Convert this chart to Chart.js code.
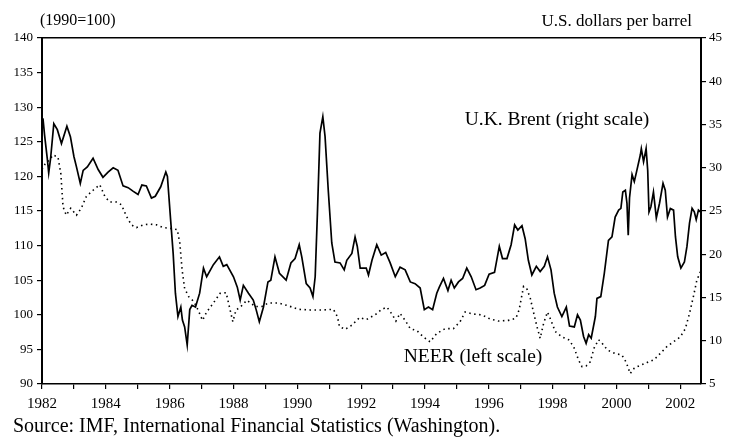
<!DOCTYPE html>
<html>
<head>
<meta charset="utf-8">
<script src="https://cdn.jsdelivr.net/npm/chart.js@4/dist/chart.umd.min.js"></script>
<style>
  html, body { margin: 0; padding: 0; background: #fff; }
  #chart { display: block; }
</style>
</head>
<body>
<canvas id="chart" width="730" height="441"></canvas>
<script>
// === data ===

// U.K. Brent, U.S. dollars per barrel (right scale)
const brentYears = [
  1982.03, 1982.08, 1982.17, 1982.21, 1982.27, 1982.37, 1982.48, 1982.61, 1982.78, 1982.89,
  1983.00, 1983.08, 1983.20, 1983.29, 1983.42, 1983.60, 1983.76, 1983.91, 1984.07, 1984.23,
  1984.38, 1984.54, 1984.70, 1984.85, 1985.01, 1985.13, 1985.27, 1985.43, 1985.55, 1985.72,
  1985.88, 1985.93, 1986.03, 1986.11, 1986.18, 1986.26, 1986.35, 1986.40, 1986.47, 1986.55,
  1986.63, 1986.70, 1986.81, 1986.94, 1987.06, 1987.16, 1987.37, 1987.56, 1987.68, 1987.79,
  1988.00, 1988.12, 1988.21, 1988.31, 1988.47, 1988.62, 1988.71, 1988.81, 1988.94, 1989.08,
  1989.17, 1989.30, 1989.44, 1989.65, 1989.80, 1989.93, 1990.06, 1990.14, 1990.28, 1990.40,
  1990.49, 1990.56, 1990.63, 1990.71, 1990.80, 1990.87, 1990.97, 1991.08, 1991.18, 1991.34,
  1991.47, 1991.55, 1991.71, 1991.81, 1991.88, 1991.97, 1992.16, 1992.23, 1992.34, 1992.49,
  1992.63, 1992.77, 1992.91, 1993.07, 1993.22, 1993.38, 1993.54, 1993.69, 1993.85, 1993.98,
  1994.11, 1994.24, 1994.37, 1994.45, 1994.58, 1994.72, 1994.82, 1994.92, 1995.05, 1995.18,
  1995.31, 1995.45, 1995.60, 1995.73, 1995.87, 1996.01, 1996.18, 1996.33, 1996.43, 1996.57,
  1996.70, 1996.81, 1996.91, 1997.04, 1997.14, 1997.24, 1997.35, 1997.49, 1997.61, 1997.74,
  1997.84, 1997.95, 1998.05, 1998.15, 1998.29, 1998.43, 1998.53, 1998.68, 1998.78, 1998.87,
  1998.97, 1999.05, 1999.13, 1999.21, 1999.34, 1999.39, 1999.51, 1999.62, 1999.75, 1999.86,
  1999.96, 2000.07, 2000.14, 2000.20, 2000.28, 2000.33, 2000.37, 2000.41, 2000.49, 2000.56,
  2000.64, 2000.75, 2000.78, 2000.85, 2000.93, 2000.98, 2001.02, 2001.08, 2001.16, 2001.25,
  2001.35, 2001.46, 2001.53, 2001.60, 2001.69, 2001.79, 2001.85, 2001.92, 2002.02, 2002.13,
  2002.21, 2002.29, 2002.37, 2002.44, 2002.50, 2002.57, 2002.63
];
const brentPrices = [
  35.7, 33.8, 30.9, 29.4, 31.1, 35.1, 34.4, 32.8, 34.8, 33.6,
  31.3, 30.1, 28.2, 29.7, 30.1, 31.1, 29.8, 28.9, 29.5, 30.0,
  29.7, 27.9, 27.7, 27.3, 26.9, 28.0, 27.9, 26.5, 26.7, 27.8,
  29.5, 29.0, 24.0, 20.1, 15.5, 12.8, 13.9, 12.4, 11.6, 9.5,
  13.6, 14.1, 13.9, 15.5, 18.4, 17.4, 18.8, 19.7, 18.6, 18.8,
  17.4, 16.2, 14.7, 16.4, 15.5, 14.7, 13.6, 12.2, 13.9, 16.8,
  17.0, 19.7, 17.8, 17.0, 19.0, 19.5, 21.1, 19.7, 16.6, 16.1,
  15.1, 17.4, 24.7, 34.0, 35.9, 33.6, 27.4, 21.3, 19.1, 19.0,
  18.2, 19.3, 20.1, 22.0, 20.9, 18.4, 18.4, 17.6, 19.3, 21.1,
  19.9, 20.2, 19.0, 17.4, 18.5, 18.2, 16.8, 16.6, 16.1, 13.6,
  13.9, 13.6, 15.5, 16.2, 17.2, 15.8, 17.0, 16.1, 16.8, 17.2,
  18.4, 17.4, 15.9, 16.1, 16.4, 17.7, 17.9, 20.9, 19.5, 19.5,
  21.1, 23.4, 22.8, 23.3, 21.8, 19.3, 17.6, 18.6, 18.0, 18.6,
  19.7, 18.2, 15.5, 13.9, 12.8, 13.9, 11.7, 11.6, 13.0, 12.4,
  10.5, 9.7, 10.7, 10.3, 12.8, 14.9, 15.1, 17.8, 21.6, 22.0,
  24.3, 25.1, 25.3, 27.2, 27.4, 25.9, 22.2, 26.5, 29.2, 28.4,
  29.7, 31.5, 32.2, 30.7, 32.2, 29.7, 24.9, 25.5, 27.2, 24.2,
  25.9, 28.2, 27.4, 24.3, 25.3, 25.1, 22.0, 19.7, 18.4, 19.1,
  20.9, 23.6, 25.3, 24.9, 24.0, 25.1, 24.9
];

// nominal effective exchange rate, 1990=100 (left scale)
const neerYears = [
  1982.00, 1982.10, 1982.24, 1982.34, 1982.50, 1982.59, 1982.66, 1982.76, 1982.90, 1983.08,
  1983.23, 1983.39, 1983.60, 1983.81, 1983.97, 1984.12, 1984.33, 1984.49, 1984.65, 1984.80,
  1984.96, 1985.17, 1985.38, 1985.59, 1985.80, 1986.00, 1986.24, 1986.32, 1986.39, 1986.47,
  1986.60, 1986.76, 1986.89, 1987.03, 1987.16, 1987.37, 1987.58, 1987.77, 1987.87, 1987.98,
  1988.08, 1988.21, 1988.42, 1988.68, 1988.89, 1989.09, 1989.41, 1989.72, 1990.03, 1990.40,
  1990.82, 1991.13, 1991.26, 1991.32, 1991.50, 1991.71, 1991.95, 1992.16, 1992.44, 1992.65,
  1992.81, 1992.98, 1993.09, 1993.22, 1993.38, 1993.54, 1993.75, 1993.95, 1994.16, 1994.37,
  1994.63, 1994.89, 1995.10, 1995.26, 1995.52, 1995.78, 1996.04, 1996.30, 1996.62, 1996.85,
  1996.95, 1997.09, 1997.19, 1997.30, 1997.40, 1997.51, 1997.61, 1997.72, 1997.84, 1997.95,
  1998.08, 1998.29, 1998.50, 1998.66, 1998.81, 1998.92, 1999.05, 1999.18, 1999.30, 1999.44,
  1999.55, 1999.72, 1999.96, 2000.17, 2000.31, 2000.43, 2000.56, 2000.75, 2000.96, 2001.18,
  2001.37, 2001.58, 2001.79, 2002.00, 2002.16, 2002.29, 2002.41, 2002.52, 2002.63
];
const neerIndex = [
  121.0, 121.8, 122.4, 123.1, 122.8, 120.4, 115.6, 114.4, 115.4, 114.4,
  115.4, 117.1, 118.0, 118.8, 117.1, 116.3, 116.3, 115.9, 114.2, 113.0,
  112.6, 113.0, 113.1, 113.0, 112.6, 112.5, 112.3, 110.3, 106.5, 103.8,
  102.6, 101.9, 100.7, 99.2, 100.4, 101.7, 103.1, 103.2, 101.2, 99.0,
  100.7, 101.1, 102.1, 101.2, 101.2, 101.7, 101.7, 101.3, 100.8, 100.7,
  100.7, 100.8, 99.7, 98.3, 97.9, 98.5, 99.6, 99.3, 100.0, 100.8,
  101.1, 100.0, 99.1, 100.2, 99.2, 98.0, 97.7, 96.8, 96.1, 97.3,
  98.0, 98.0, 99.0, 100.4, 100.1, 100.0, 99.4, 99.1, 99.2, 99.5,
  100.7, 104.1, 103.8, 102.4, 100.4, 98.3, 96.6, 98.8, 100.4, 99.2,
  97.6, 96.8, 96.4, 95.4, 93.5, 92.5, 92.6, 93.2, 95.2, 96.4,
  95.9, 94.9, 94.4, 94.2, 93.1, 91.5, 92.3, 92.7, 93.1, 93.5,
  94.4, 95.4, 96.1, 96.8, 98.0, 100.2, 102.6, 105.0, 106.2
];

// axes
const yearTicks = [1982, 1983, 1984, 1985, 1986, 1987, 1988, 1989, 1990, 1991, 1992,
  1993, 1994, 1995, 1996, 1997, 1998, 1999, 2000, 2001, 2002];
const yearLabels = ["1982", "", "1984", "", "1986", "", "1988", "", "1990", "", "1992",
  "", "1994", "", "1996", "", "1998", "", "2000", "", "2002"];
const leftTicks = [90, 95, 100, 105, 110, 115, 120, 125, 130, 135, 140];
const rightTicks = [5, 10, 15, 20, 25, 30, 35, 40, 45];

const SERIF = "'Liberation Serif', 'DejaVu Serif', serif";

function toPoints(xs, ys) {
  return xs.map((x, i) => ({ x, y: ys[i] }));
}

// fixed text: units, series labels, source line
const textPlugin = {
  id: "texts",
  afterDraw(chart) {
    const ctx = chart.ctx;
    ctx.save();
    ctx.fillStyle = "#000";
    ctx.textBaseline = "middle";
    ctx.textAlign = "left";
    ctx.font = "16px " + SERIF;
    ctx.fillText("(1990=100)", 40, 21);
    ctx.font = "17px " + SERIF;
    ctx.textAlign = "right";
    ctx.fillText("U.S. dollars per barrel", 692, 22);
    ctx.font = "19.5px " + SERIF;
    ctx.textAlign = "center";
    ctx.fillText("U.K. Brent (right scale)", 557, 120);
    ctx.fillText("NEER (left scale)", 473, 357);
    ctx.font = "20px " + SERIF;
    ctx.textAlign = "left";
    ctx.fillText("Source: IMF, International Financial Statistics (Washington).", 13, 427);
    ctx.restore();
  },
};

Chart.defaults.font.family = SERIF;
Chart.defaults.color = "#000";

new Chart(document.getElementById("chart"), {
  type: "line",
  data: {
    datasets: [
      {
        label: "U.K. Brent (right scale)",
        data: toPoints(brentYears, brentPrices),
        yAxisID: "yR",
        borderColor: "#000",
        borderWidth: 1.7,
        pointRadius: 0,
        tension: 0,
      },
      {
        label: "NEER (left scale)",
        data: toPoints(neerYears, neerIndex),
        yAxisID: "y",
        borderColor: "#000",
        borderWidth: 1.6,
        borderDash: [1.5, 3.5],
        pointRadius: 0,
        tension: 0,
      },
    ],
  },
  options: {
    responsive: false,
    animation: false,
    devicePixelRatio: 1,
    layout: { padding: 0 },
    plugins: {
      legend: { display: false },
      tooltip: { enabled: false },
    },
    scales: {
      x: {
        type: "linear",
        position: "bottom",
        min: 1982,
        max: 2002.65,
        afterBuildTicks: s => { s.ticks = yearTicks.map(v => ({ value: v })); },
        afterFit: s => { s.height = 57; },
        ticks: {
          autoSkip: false,
          maxRotation: 0,
          padding: 6,
          font: { size: 15 },
          callback: (v, i) => yearLabels[i],
        },
        grid: { drawOnChartArea: false, tickLength: 5, color: "#000", lineWidth: 1.2 },
        border: { color: "#000", width: 1.5 },
      },
      xTop: {
        type: "linear",
        position: "top",
        min: 1982,
        max: 2002.65,
        afterFit: s => { s.height = 38; },
        ticks: { display: false },
        grid: { display: false },
        border: { display: true, color: "#000", width: 1.5 },
      },
      y: {
        position: "left",
        min: 90,
        max: 140,
        afterBuildTicks: s => { s.ticks = leftTicks.map(v => ({ value: v })); },
        afterFit: s => { s.width = 42; },
        ticks: { padding: 4, font: { size: 13 } },
        grid: { drawOnChartArea: false, tickLength: 5, color: "#000", lineWidth: 1.2 },
        border: { color: "#000", width: 2 },
      },
      yR: {
        position: "right",
        min: 5,
        max: 45,
        afterBuildTicks: s => { s.ticks = rightTicks.map(v => ({ value: v })); },
        afterFit: s => { s.width = 29; },
        ticks: { padding: 3, font: { size: 13 } },
        grid: { drawOnChartArea: false, tickLength: 5, color: "#000", lineWidth: 1.2 },
        border: { color: "#000", width: 2 },
      },
    },
  },
  plugins: [textPlugin],
});
</script>
</body>
</html>
